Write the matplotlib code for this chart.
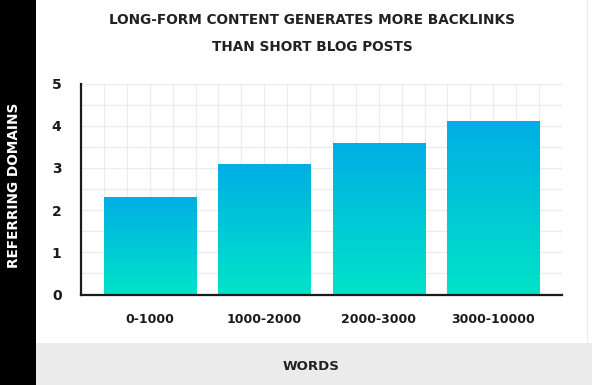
import numpy as np
import matplotlib
matplotlib.use("Agg")
import matplotlib.pyplot as plt
from matplotlib.colors import LinearSegmentedColormap
from matplotlib.patches import Rectangle

categories = ["0-1000", "1000-2000", "2000-3000", "3000-10000"]
values = [2.3, 3.1, 3.6, 4.1]
yticks = [0, 1, 2, 3, 4, 5]
title_lines = ["LONG-FORM CONTENT GENERATES MORE BACKLINKS", "THAN SHORT BLOG POSTS"]
ylabel = "REFERRING DOMAINS"
xlabel = "WORDS"

W, H = 592, 385
fig = plt.figure(figsize=(W / 100, H / 100), dpi=100)
fig.patch.set_facecolor("white")

# left black strip and bottom grey band
fig.add_artist(Rectangle((0, 0), 36 / W, 1, transform=fig.transFigure,
                         facecolor="black", edgecolor="none", zorder=0))
fig.add_artist(Rectangle((36 / W, 0), 1 - 36 / W, (H - 343) / H, transform=fig.transFigure,
                         facecolor="#ebebeb", edgecolor="none", zorder=0))
fig.add_artist(plt.Line2D([587 / W, 587 / W], [(H - 343) / H, 1], transform=fig.transFigure,
                          color="#ececec", lw=0.8))

ax = fig.add_axes([81 / W, (H - 294.5) / H, 481 / W, 211 / H])
x = np.arange(len(categories))
xl = (-0.604, len(categories) - 1 + 0.604)

cmap = LinearSegmentedColormap.from_list("g", ["#00e3c8", "#00aee5"])
width = 0.805
bars = ax.bar(x, values, width=width, color="none", edgecolor="none", zorder=3)
grad = np.linspace(0, 1, 256).reshape(-1, 1)
for b in bars:
    x0, y0 = b.get_x(), b.get_y()
    w, h = b.get_width(), b.get_height()
    im = ax.imshow(grad, extent=[x0, x0 + w, y0, y0 + h], origin="lower",
                   cmap=cmap, aspect="auto", zorder=3, vmin=0, vmax=1)
    im.set_clip_path(b)
ax.set_xlim(*xl)
ax.set_ylim(0, 5)

# grid
for yv in np.arange(0, 5.01, 0.5):
    ax.axhline(yv, color="#ececec", lw=0.9, zorder=1)
for xv in np.linspace(xl[0], xl[1], 22):
    ax.axvline(xv, color="#ececec", lw=0.9, zorder=1)

for s in ["top", "right"]:
    ax.spines[s].set_visible(False)
for s in ["left", "bottom"]:
    ax.spines[s].set_linewidth(1.6)
    ax.spines[s].set_color("#1a1a1a")
    ax.spines[s].set_zorder(5)

ax.set_yticks(yticks)
ax.set_yticklabels([str(t) for t in yticks], fontsize=10, fontweight="bold", color="#1a1a1a")
ax.set_xticks(x)
ax.set_xticklabels(categories, fontsize=9, fontweight="bold", color="#1a1a1a")
ax.tick_params(axis="y", length=0, pad=14)
ax.tick_params(axis="x", length=0, pad=13)

fig.text(312 / W, 1 - 20 / H, title_lines[0],
         ha="center", va="center", fontsize=9.8, fontweight="bold", color="#222222")
fig.text(312 / W, 1 - 47 / H, title_lines[1],
         ha="center", va="center", fontsize=9.8, fontweight="bold", color="#222222")
fig.text(14 / W, 1 - 185 / H, ylabel, rotation=90, ha="center", va="center",
         fontsize=9.8, fontweight="bold", color="white")
fig.text(311.5 / W, 1 - 367 / H, xlabel, ha="center", va="center",
         fontsize=9.5, fontweight="bold", color="#222222")

fig.savefig("out.png", dpi=100, facecolor=fig.get_facecolor())
